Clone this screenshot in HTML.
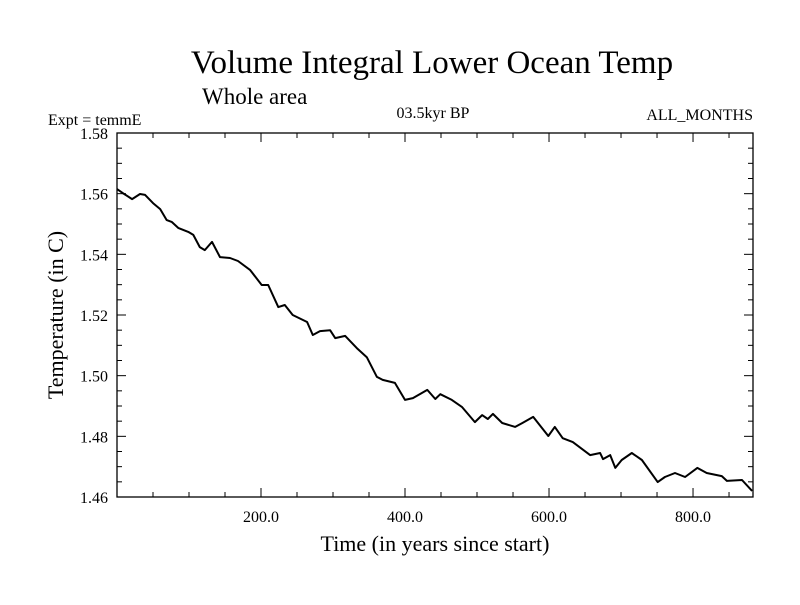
<!DOCTYPE html>
<html><head><meta charset="utf-8"><style>
body{margin:0;background:#fff}
svg text{font-family:"Liberation Serif",serif;fill:#000}
</style></head><body>
<svg id="chart" width="800" height="600" viewBox="0 0 800 600" xmlns="http://www.w3.org/2000/svg">
<rect width="800" height="600" fill="#fff"/>
<text x="432" y="73" font-size="33" text-anchor="middle">Volume Integral Lower Ocean Temp</text>
<text x="202" y="104" font-size="23">Whole area</text>
<text x="48" y="125" font-size="16">Expt = temmE</text>
<text x="433" y="118" font-size="16" text-anchor="middle">03.5kyr BP</text>
<text x="753" y="120" font-size="16" text-anchor="end">ALL_MONTHS</text>
<text x="435" y="551" font-size="22" text-anchor="middle">Time (in years since start)</text>
<text transform="translate(63,315) rotate(-90)" font-size="22" text-anchor="middle">Temperature (in C)</text>
<g id="axes"></g>
<path id="series" fill="none" stroke="#000" stroke-width="2" stroke-linejoin="round"/>
</svg>
<script>
const years=[0,8,21,32,39,50,60,69,76,85,99,106,115,122,132,143,157,168,185,201,210,224,233,244,264,272,282,296,303,317,333,347,361,369,386,400,411,431,442,449,465,479,497,507,515,522,535,553,563,578,599,608,619,633,657,671,675,685,692,701,715,729,751,761,775,789,806,819,840,847,868,882];
const temps=[1.5615,1.5602,1.5582,1.5599,1.5596,1.5569,1.5549,1.5513,1.5507,1.5487,1.5474,1.5464,1.5424,1.5414,1.5441,1.5391,1.5388,1.5378,1.5348,1.5299,1.5299,1.5226,1.5233,1.5200,1.5177,1.5134,1.5147,1.5150,1.5124,1.5131,1.5091,1.5061,1.4996,1.4986,1.4976,1.4920,1.4926,1.4953,1.4923,1.4939,1.4920,1.4897,1.4847,1.4870,1.4857,1.4874,1.4844,1.4831,1.4844,1.4864,1.4801,1.4831,1.4794,1.4781,1.4738,1.4745,1.4725,1.4738,1.4696,1.4722,1.4745,1.4722,1.4649,1.4666,1.4679,1.4666,1.4696,1.4679,1.4669,1.4653,1.4656,1.4620];
const xTicks=[200,400,600,800];
const xTickLabels=["200.0","400.0","600.0","800.0"];
const yTicks=[1.46,1.48,1.50,1.52,1.54,1.56,1.58];
const yTickLabels=["1.46","1.48","1.50","1.52","1.54","1.56","1.58"];
const X0=117,X1=753,Y0=497,Y1=133,xMin=0,xMax=883.3,yMin=1.46,yMax=1.58;
const sx=v=>X0+(v-xMin)/(xMax-xMin)*(X1-X0);
const sy=v=>Y0-(v-yMin)/(yMax-yMin)*(Y0-Y1);
const NS="http://www.w3.org/2000/svg";
const g=document.getElementById('axes');
function mk(t,a){const e=document.createElementNS(NS,t);for(const k in a)e.setAttribute(k,a[k]);g.appendChild(e);return e;}
const frame=mk('rect',{x:X0,y:Y1,width:X1-X0,height:Y0-Y1,fill:'none',stroke:'#000','stroke-width':1.3});


for(let v=50;v<xMax;v+=50){const major=v%200===0;const L=major?9:5;const x=sx(v);
 const t1=mk('line',{x1:x,x2:x,y1:Y0,y2:Y0-L,stroke:'#000'});
 
 
 const t2=mk('line',{x1:x,x2:x,y1:Y1,y2:Y1+L,stroke:'#000'});
 
 }
for(let i=0;i<=24;i++){const v=yMin+i*0.005;const major=i%4===0;const L=major?9:5;const y=sy(v);
 const t1=mk('line',{x1:X0,x2:X0+L,y1:y,y2:y,stroke:'#000'});
 
 
 const t2=mk('line',{x1:X1,x2:X1-L,y1:y,y2:y,stroke:'#000'});
 
 }
xTicks.forEach((v,i)=>{const t=mk('text',{x:sx(v),y:Y0+25,'font-size':16,'text-anchor':'middle'});t.textContent=xTickLabels[i];
 
 });
yTicks.forEach((v,i)=>{const t=mk('text',{x:X0-9,y:sy(v)+6,'font-size':16,'text-anchor':'end'});t.textContent=yTickLabels[i];
 
 });
document.getElementById('series').setAttribute('d',years.map((y,i)=>(i?'L':'M')+sx(y).toFixed(1)+','+sy(temps[i]).toFixed(1)).join(''));
</script>
</body></html>
